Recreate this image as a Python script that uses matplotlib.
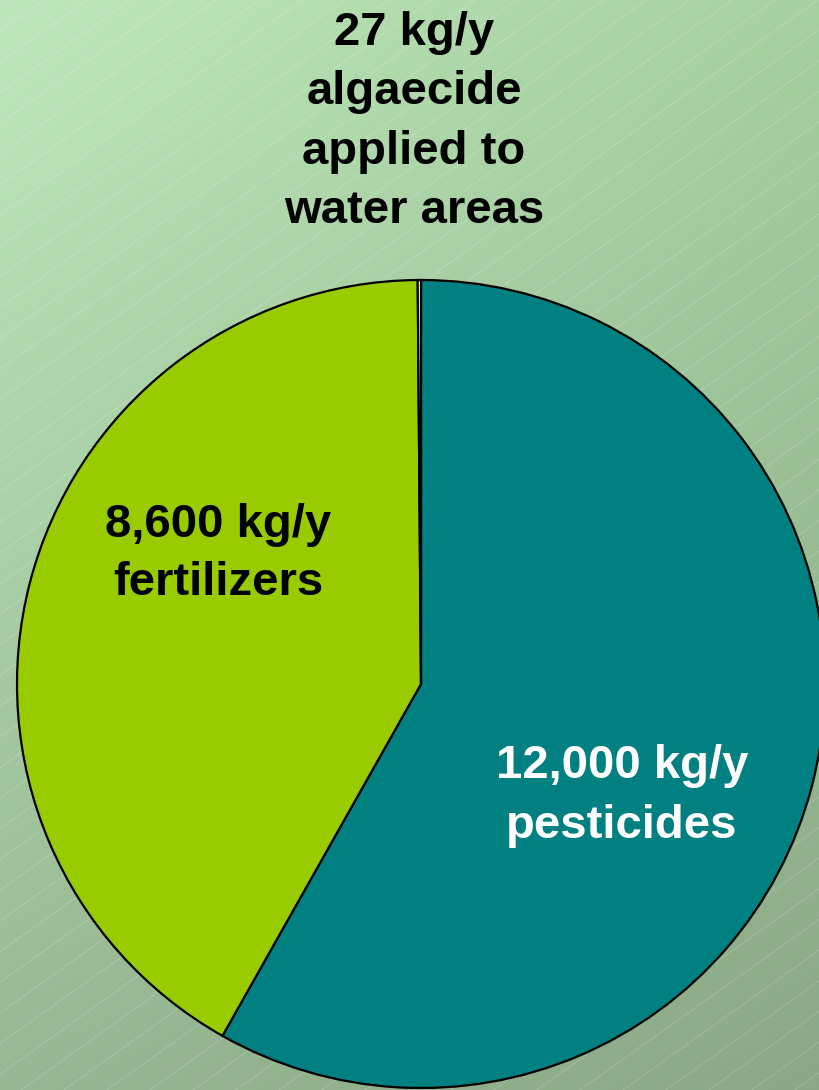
import numpy as np
import matplotlib
matplotlib.use("Agg")
import matplotlib.pyplot as plt

# chart data
categories = ["pesticides", "fertilizers", "algaecide applied to water areas"]
amounts = [12000, 8600, 27]
amount_labels = ["12,000 kg/y", "8,600 kg/y", "27 kg/y"]
slice_colors = ["#008080", "#99CC00", "#FFFFCC"]

W, H = 819, 1090
fig = plt.figure(figsize=(W / 100, H / 100), dpi=100)

# background: soft green gradient with faint diagonal lines
bg = fig.add_axes([0, 0, 1, 1])
bg.set_axis_off()
tl = np.array([190, 232, 187]) / 255
tr = np.array([166, 208, 160]) / 255
bl = np.array([150, 184, 146]) / 255
br = np.array([138, 168, 134]) / 255
u = np.linspace(0, 1, 200)[None, :, None]
v = np.linspace(0, 1, 270)[:, None, None]
grad = (1 - v) * ((1 - u) * tl + u * tr) + v * ((1 - u) * bl + u * br)
bg.imshow(grad, extent=(0, W, H, 0), aspect="auto", interpolation="bilinear")
slope = np.tan(np.radians(35.5))
for x0 in np.arange(-2000, W + 100, 43):
    xs = np.array([x0, x0 + 2000])
    bg.plot(xs, H - (xs - x0) * slope, color="white", alpha=0.25, lw=0.5)
bg.set_xlim(0, W)
bg.set_ylim(H, 0)

# pie in pixel coordinates (y up)
ax = fig.add_axes([0, 0, 1, 1])
ax.set_axis_off()
cx, cy, r = 421, H - 684, 404
wedges, _ = ax.pie(amounts, colors=slice_colors, startangle=90, counterclock=False,
                   center=(cx, cy), radius=r, frame=True,
                   wedgeprops=dict(edgecolor="black", linewidth=1.6))
for w in wedges:
    w.set_clip_on(False)
ax.set_xlim(0, W)
ax.set_ylim(0, H)
ax.set_aspect("equal")
ax.set_axis_off()

font = dict(family="Liberation Sans", weight="bold", fontsize=34)
fig.text(414 / W, 1 - 122 / H, amount_labels[2] + "\nalgaecide\napplied to\nwater areas",
         ha="center", va="center", color="black", linespacing=1.45, **font)
fig.text(218 / W, 1 - 554 / H, amount_labels[1] + "\n" + categories[1],
         ha="center", va="center", color="black", linespacing=1.42, **font)
fig.text(622 / W, 1 - 796 / H, amount_labels[0] + "\n" + categories[0],
         ha="center", va="center", color="white", linespacing=1.45, **font)

fig.savefig("out.png", dpi=100)
